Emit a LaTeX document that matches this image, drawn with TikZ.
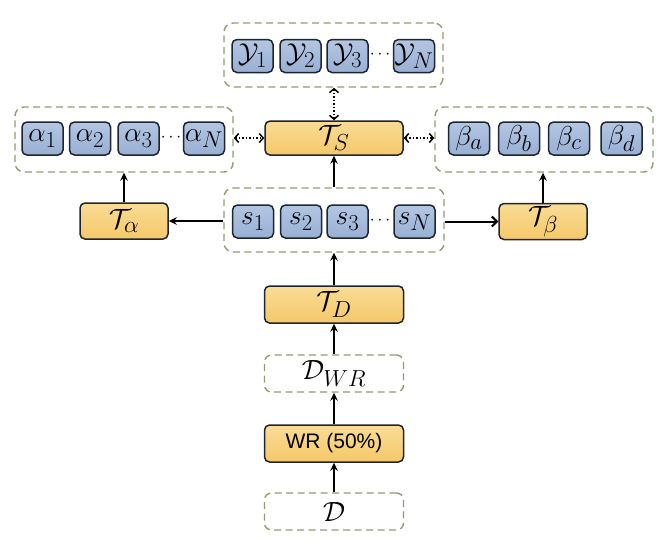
\documentclass[tikz,border=0pt]{standalone}
\usepackage{fontspec}
\newfontfamily\wrfont{Liberation Sans}
\usetikzlibrary{arrows.meta}
\definecolor{dashc}{HTML}{8E9E70}
\definecolor{bluetop}{HTML}{B3C6E3}
\definecolor{bluebot}{HTML}{98B0D4}
\definecolor{orgtop}{HTML}{F9DC95}
\definecolor{orgbot}{HTML}{F5C86A}
\definecolor{edge}{HTML}{1E2430}
\newcommand{\bxtxt}[1]{\scalebox{1.1}{$#1$}}
\newcommand{\oxtxt}[1]{\scalebox{1.12}{$#1$}}
\tikzset{
  bbox/.style={draw=edge, line width=1.5pt, rounded corners=5pt, top color=bluetop, bottom color=bluebot,
    minimum width=41pt, minimum height=33pt, inner sep=0pt, font=\fontsize{24.88}{28}\selectfont},
  obox/.style={draw=edge, line width=1.5pt, rounded corners=5pt, top color=orgtop, bottom color=orgbot,
    minimum width=138pt, minimum height=35pt, inner sep=0pt, font=\fontsize{24.88}{28}\selectfont},
  grp/.style={draw=dashc, line width=1.4pt, dash pattern=on 7pt off 4.5pt, rounded corners=9pt,
    inner sep=0pt, fill=white},
  ebox/.style={draw=dashc, line width=1.4pt, dash pattern=on 7pt off 4.5pt, rounded corners=7pt,
    minimum width=139pt, minimum height=37pt, inner sep=0pt, font=\fontsize{24.88}{28}\selectfont},
  dotsn/.style={inner sep=0pt, font=\fontsize{17.28}{20}\selectfont},
  arr/.style={line width=2pt, -{Stealth[length=8pt,width=7.5pt]}},
  arrb/.style={line width=2pt, -{Straight Barb[length=5pt,width=10pt]}},
  dotarr/.style={line width=1.5pt, dash pattern=on 1.5pt off 2pt, {Straight Barb[length=4pt,width=9pt]}-{Straight Barb[length=4pt,width=9pt]}},
}
\begin{document}
\begin{tikzpicture}[x=1pt,y=-1pt]
\path[use as bounding box, fill=white] (0,0) rectangle (668,547);

% top group
\node[grp, minimum width=219pt, minimum height=64pt] (ygrp) at (333.5,55) {};
\node[bbox] (y1) at (252.5,56) {\bxtxt{\mathcal{Y}_1}};
\node[bbox] (y2) at (300.5,56) {\bxtxt{\mathcal{Y}_2}};
\node[bbox] (y3) at (347.5,56) {\bxtxt{\mathcal{Y}_3}};
\node[bbox] (yN) at (414,56) {\bxtxt{\mathcal{Y}_N}};
\node[dotsn] (yd) at (380,55) {$\cdots$};

% alpha group
\node[grp, minimum width=218pt, minimum height=65pt] (agrp) at (124,139.5) {};
\node[bbox] (a1) at (42.5,138.5) {\bxtxt{\alpha_1}};
\node[bbox] (a2) at (90,138.5) {\bxtxt{\alpha_2}};
\node[bbox] (a3) at (138.5,138.5) {\bxtxt{\alpha_3}};
\node[bbox] (aN) at (204,138.5) {\bxtxt{\alpha_N}};
\node[dotsn] (ad) at (171,137.5) {$\cdots$};

% beta group
\node[grp, minimum width=218pt, minimum height=65pt] (bgrp) at (544,139.5) {};
\node[bbox] (ba) at (469,138.5) {\bxtxt{\beta_a}};
\node[bbox] (bb) at (519,138.5) {\bxtxt{\beta_b}};
\node[bbox] (bc) at (569,138.5) {\bxtxt{\beta_c}};
\node[bbox] (bd) at (621.5,138.5) {\bxtxt{\beta_d}};

% T_S
\node[obox, minimum height=34pt] (TS) at (334,138) {\oxtxt{\mathcal{T}_S}};

% s group
\node[grp, minimum width=220pt, minimum height=64pt] (sgrp) at (334,220) {};
\node[bbox] (s1) at (253,221.5) {\bxtxt{s_1}};
\node[bbox] (s2) at (301,221.5) {\bxtxt{s_2}};
\node[bbox] (s3) at (347.5,221.5) {\bxtxt{s_3}};
\node[bbox] (sN) at (414.5,221.5) {\bxtxt{s_N}};
\node[dotsn] (sd) at (380,220.5) {$\cdots$};

% T_alpha, T_beta
\node[obox, minimum width=88pt, minimum height=36pt] (Ta) at (124,221) {\oxtxt{\mathcal{T}_\alpha}};
\node[obox, minimum width=88pt, minimum height=36pt] (Tb) at (543,221.5) {\oxtxt{\mathcal{T}_\beta}};

% lower chain
\node[obox, minimum width=139pt, minimum height=37pt] (TD) at (334,304.5) {\oxtxt{\mathcal{T}_D}};
\node[ebox] (DWR) at (334,373.5) {\oxtxt{\mathcal{D}_{WR}}};
\node[obox, minimum width=139pt, minimum height=37pt, font=\wrfont\fontsize{21}{24}\selectfont] (WR) at (334,443.5) {WR (50\%)};
\node[ebox] (D) at (334,511.5) {\oxtxt{\mathcal{D}}};

% connectors
\draw[dotarr] (ygrp.south -| TS.north) -- (TS.north);
\draw[dotarr] (agrp.east |- TS.west) -- (TS.west);
\draw[dotarr] (TS.east) -- (bgrp.west |- TS.east);
\draw[arr] (sgrp.north -| TS.south) -- (TS.south);
\draw[arr] (sgrp.west |- Ta.east) -- (Ta.east);
\draw[arrb] (sgrp.east |- Tb.west) -- (Tb.west);
\draw[arr] (Ta.north) -- (agrp.south -| Ta.north);
\draw[arr] (Tb.north) -- (bgrp.south -| Tb.north);
\draw[arr] (TD.north) -- (sgrp.south -| TD.north);
\draw[arr] (DWR.north) -- (TD.south);
\draw[arr] (WR.north) -- (DWR.south);
\draw[arr] (D.north) -- (WR.south);
\end{tikzpicture}
\end{document}
